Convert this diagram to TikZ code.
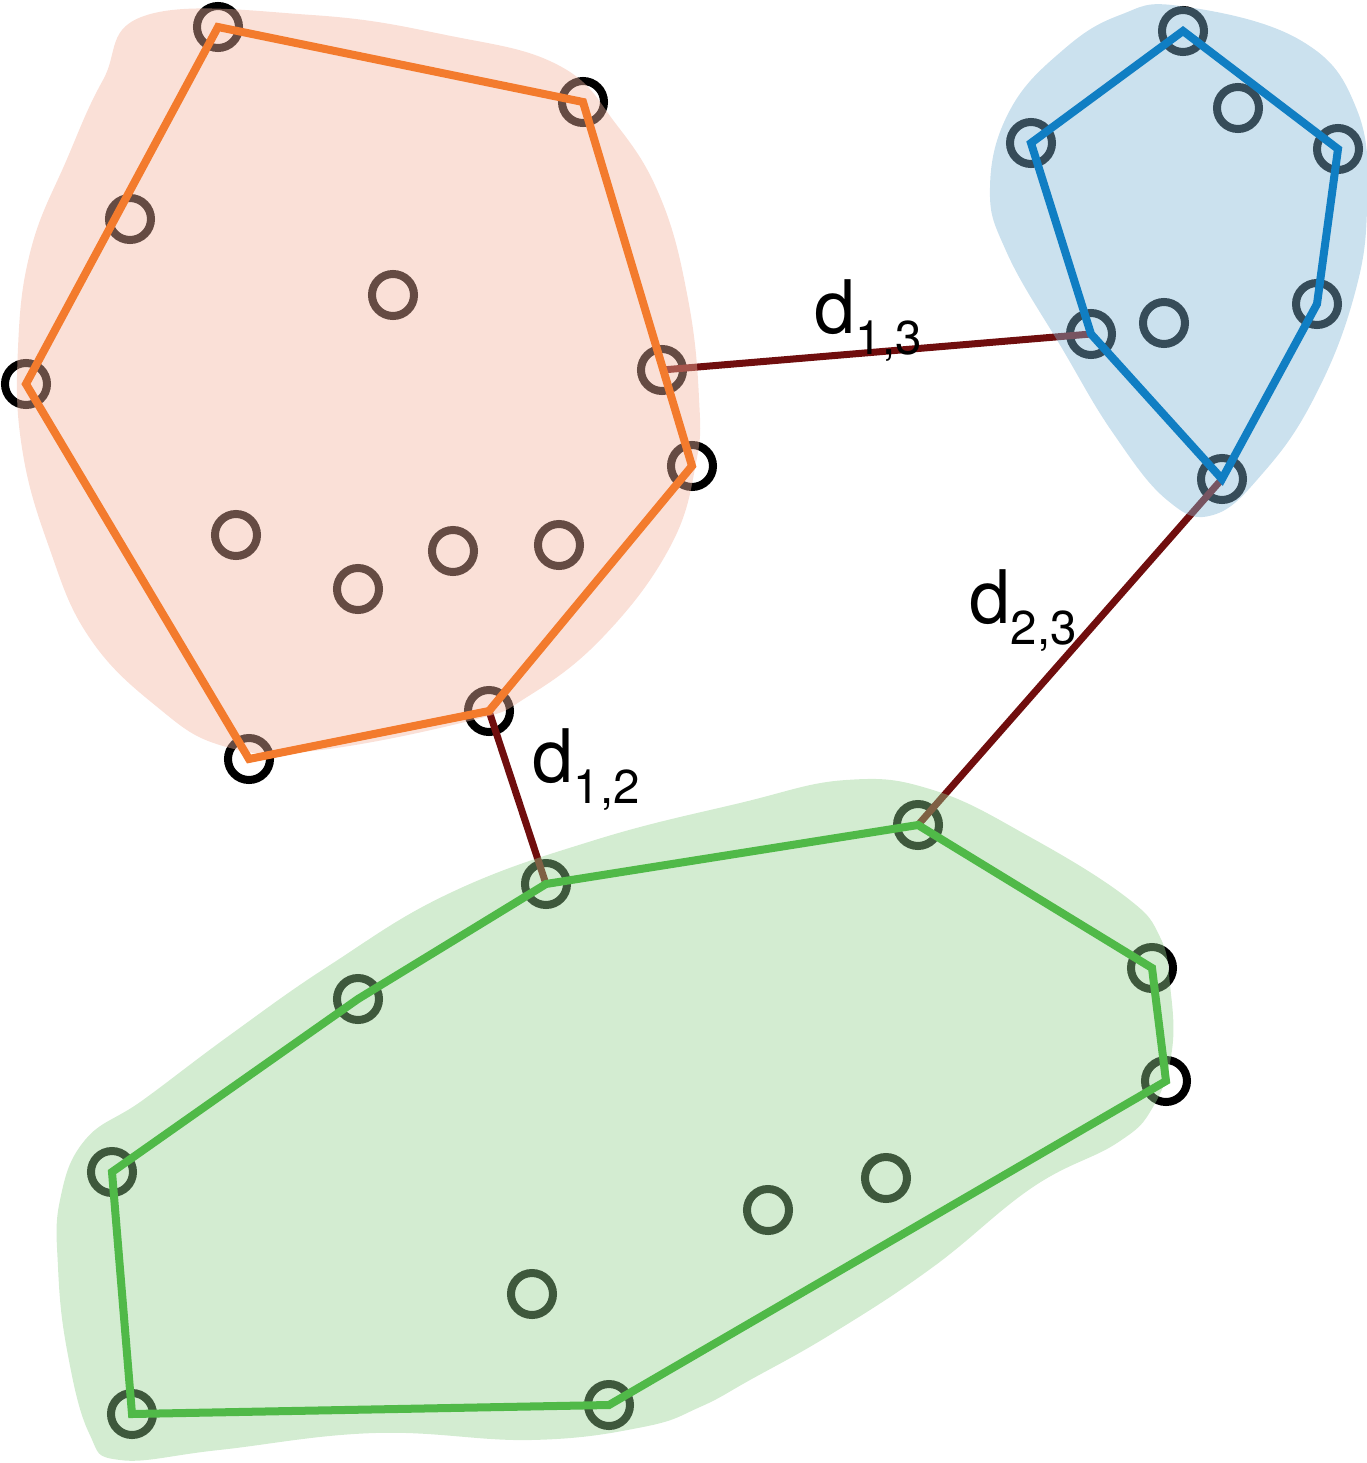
\documentclass[tikz,border=0pt]{standalone}
\usepackage{fontspec}
\setmainfont{TeX Gyre Heros}
\usepackage{xcolor}
\usepackage{tikz}
\usetikzlibrary{positioning}
\definecolor{bloborange}{RGB}{243,181,160}
\definecolor{blobblue}{RGB}{131,183,214}
\definecolor{blobgreen}{RGB}{150,210,145}
\definecolor{hullorange}{RGB}{243,123,45}
\definecolor{hullblue}{RGB}{16,126,195}
\definecolor{hullgreen}{RGB}{80,185,72}
\definecolor{distred}{RGB}{112,14,14}
\newcommand{\dsub}[1]{d\raisebox{-6pt}{\fontsize{13.5}{13.5}\selectfont #1}}

\begin{document}
\begin{tikzpicture}[x=0.01cm, y=-0.01cm,
    pt/.style={circle, draw=black, line width=0.08cm, minimum size=0.42cm, inner sep=0pt},
    blob/.style={fill opacity=0.42},
    hull/.style={line width=0.08cm, line join=miter},
    dist/.style={line width=0.07cm, draw=distred},
    dlabel/.style={font=\fontsize{21}{21}\selectfont, inner sep=0pt, anchor=base west}
]
    \useasboundingbox (0,0) rectangle (1367,1463);

    % Cluster 1 points
    \foreach \n/\x/\y in {o1/218/27, o2/583/102, o3/130/219, o4/393/295, o5/26/384,
                          o6/662/370, o7/692/466, o8/236/535, o9/358/589, o10/453/551,
                          o11/559/545, o12/489/711, o13/249/759} {
        \node[pt] (\n) at (\x,\y) {};
    }

    % Cluster 3 points
    \foreach \n/\x/\y in {b1/1183/31, b2/1238/108, b3/1031/143, b4/1338/149,
                          b5/1317/304, b6/1164/323, b7/1091/334, b8/1222/479} {
        \node[pt] (\n) at (\x,\y) {};
    }

    % Cluster 2 points
    \foreach \n/\x/\y in {g1/546/884, g2/358/999, g3/918/825, g4/1152/968, g5/1166/1081,
                          g6/112/1172, g7/886/1178, g8/768/1210, g9/532/1294,
                          g10/132/1414, g11/609/1405} {
        \node[pt] (\n) at (\x,\y) {};
    }

    % Distances between clusters
    \draw[dist] (o6.center) -- (b7.center);
    \draw[dist] (o12.center) -- (g1.center);
    \draw[dist] (g3.center) -- (b8.center);

    % Blobs
    \fill[blob, bloborange] plot[smooth cycle, tension=0.7] coordinates {
        (147,15) (312,15) (446,35) (558,65) (616,124) (661,199) (688,299) (699,398)
        (696,463) (670,547) (603,637) (527,697) (469,721) (312,751) (223,746)
        (156,706) (89,637) (49,547) (22,448) (18,348) (31,249) (67,159) (103,80)};
    \fill[blob, blobblue] plot[smooth cycle, tension=0.7] coordinates {
        (1180,6) (1300,40) (1357,110) (1367,207) (1353,300) (1313,400) (1263,473)
        (1213,515) (1167,500) (1113,433) (1063,350) (1007,253) (990,187) (1010,110)
        (1063,50) (1120,15)};
    \fill[blob, blobgreen] plot[smooth cycle, tension=0.7] coordinates {
        (846,780) (933,790) (1030,837) (1126,897) (1160,937) (1170,985) (1172,1050)
        (1153,1107) (1117,1143) (1033,1187) (933,1267) (833,1333) (750,1380)
        (700,1407) (643,1427) (531,1440) (375,1433) (219,1450) (120,1460) (89,1433)
        (67,1350) (58,1267) (60,1200) (85,1140) (143,1100) (230,1035) (330,965)
        (450,893) (595,840) (740,803)};

    % Convex hulls
    \draw[hull, hullorange] (o1.center) -- (o2.center) -- (o7.center) -- (o12.center)
        -- (o13.center) -- (o5.center) -- cycle;
    \draw[hull, hullblue] (b1.center) -- (b4.center) -- (b5.center) -- (b8.center)
        -- (b7.center) -- (b3.center) -- cycle;
    \draw[hull, hullgreen] (g1.center) -- (g3.center) -- (g4.center) -- (g5.center)
        -- (g11.center) -- (g10.center) -- (g6.center) -- (g2.center) -- cycle;

    % Labels
    \node[dlabel] (l13) at (814,333) {\dsub{1,3}};
    \node[dlabel] (l23) at (969,623) {\dsub{2,3}};
    \node[dlabel] (l12) at (532,782) {\dsub{1,2}};
\end{tikzpicture}
\end{document}
